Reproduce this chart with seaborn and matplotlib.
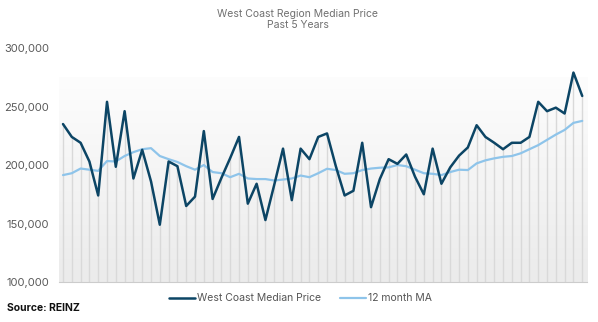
import numpy as np
import pandas as pd
import matplotlib
matplotlib.use("Agg")
import matplotlib.pyplot as plt
import seaborn as sns

# ---- data (values in NZD) ----
median_price_k = [235, 224, 219, 203, 174, 254, 198.5, 246, 188.5, 213,
                  186, 149, 203, 199, 165, 173, 229, 171, 189, 206,
                  224, 167, 184, 153, 183, 214, 170, 214, 205, 224,
                  227, 199, 174, 178, 219, 164, 188, 205, 201, 209,
                  190, 175, 214, 184, 198, 208, 215, 234, 224, 219,
                  213.5, 219, 219, 224, 254, 246, 249, 244, 279, 259]
ma12_k = [191.4, 193, 197, 196, 195, 203.4, 203, 207.7, 211, 213.5,
          214.4, 207.7, 205, 202.6, 199, 196, 200, 194, 193, 189.6,
          192.5, 188.5, 188, 188, 186.8, 187.6, 188.5, 191, 189.6, 193,
          196.8, 195.7, 192.5, 193, 195.7, 197, 197.7, 198, 200, 199,
          196, 193, 192.5, 191.4, 194, 196, 195.7, 201.4, 204, 205.7,
          207, 207.7, 210, 213.5, 217, 221.5, 226, 230, 236, 237.7]
series_names = ["West Coast Median Price", "12 month MA"]
y_ticks = [100000, 150000, 200000, 250000, 300000]

months = list(range(len(median_price_k)))
median_price = [v * 1000 for v in median_price_k]
ma12 = [v * 1000 for v in ma12_k]

df = pd.DataFrame({
    "month": months * 2,
    "price": median_price + ma12,
    "series": [series_names[0]] * len(months) + [series_names[1]] * len(months),
})

sns.set_theme(style="white")
plt.rcParams["font.family"] = ["Inter", "DejaVu Sans"]

dark = "#0c4565"
light = "#8ec4ea"

fig = plt.figure(figsize=(5.98, 3.22), dpi=100)
ax = fig.add_axes([0.098, 0.124, 0.883, 0.727])

# gradient background
grad = np.linspace(0, 1, 256).reshape(-1, 1)
from matplotlib.colors import LinearSegmentedColormap
cmap = LinearSegmentedColormap.from_list("g", ["#ebebeb", "#fdfdfd"])
ax.imshow(grad, aspect="auto", cmap=cmap, origin="lower",
          extent=(-0.5, len(months) - 0.5, 100000, 275000), zorder=0)

# drop lines
ax.vlines(months, 100000, median_price, color="#d9d9d9", lw=1.0, zorder=1)

sns.lineplot(data=df, x="month", y="price", hue="series",
             palette=[dark, light], ax=ax, legend=False, zorder=3)
lines = ax.get_lines()
lines[0].set_linewidth(1.8)
lines[1].set_linewidth(1.6)
lines[1].set_zorder(2)

ax.set_xlim(-0.5, len(months) - 0.5)
ax.set_ylim(100000, 300000)
ax.set_yticks(y_ticks)
ax.set_yticklabels([f"{v:,}" for v in y_ticks], color="#5a5a5a", fontsize=8)
ax.set_xticks(np.arange(-0.5, len(months), 1.0))
ax.set_xticklabels([])
ax.tick_params(axis="x", length=3, width=0.6, color="#cccccc", direction="out")
ax.tick_params(axis="y", length=0, pad=7)
ax.set_xlabel("")
ax.set_ylabel("")
for s in ["left", "right", "top"]:
    ax.spines[s].set_visible(False)
ax.spines["bottom"].set_color("#cccccc")
ax.spines["bottom"].set_linewidth(0.8)
ax.patch.set_alpha(0)

fig.text(0.498, 0.958, "West Coast Region Median Price", ha="center", va="center",
         fontsize=7.5, color="#707070")
fig.text(0.498, 0.921, "Past 5 Years", ha="center", va="center",
         fontsize=7.5, color="#707070")

from matplotlib.lines import Line2D
handles = [Line2D([], [], color=dark, lw=1.8), Line2D([], [], color=light, lw=1.6)]
fig.legend(handles, series_names, loc="center", bbox_to_anchor=(0.503, 0.074),
           ncol=2, frameon=False, fontsize=7.5, handlelength=2.5,
           handletextpad=0.2, columnspacing=1.8, labelcolor="#555555")

fig.text(0.012, 0.043, "Source: REINZ", ha="left", va="center", fontsize=7.5,
         fontweight="bold", color="#111111")

fig.savefig("out.png", dpi=100)
